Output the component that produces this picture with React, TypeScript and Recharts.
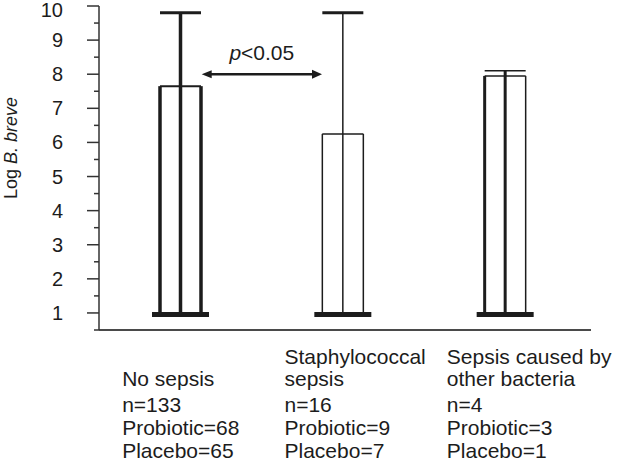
import { Bar, BarChart, ReferenceLine, XAxis, YAxis } from "recharts";

const categories = ["No sepsis", "Staphylococcal sepsis", "Sepsis caused by other bacteria"];
const baseValues = [1, 1, 1];
const meanValues = [7.65, 6.25, 7.95];
const upperValues = [9.8, 9.8, 8.1];

const titleLines = [
  ["", "No sepsis"],
  ["Staphylococcal", "sepsis"],
  ["Sepsis caused by", "other bacteria"],
];
const nLabels = ["n=133", "n=16", "n=4"];
const probioticLabels = ["Probiotic=68", "Probiotic=9", "Probiotic=3"];
const placeboLabels = ["Placebo=65", "Placebo=7", "Placebo=1"];

const yTicks = [0.5, 1, 1.5, 2, 2.5, 3, 3.5, 4, 4.5, 5, 5.5, 6, 6.5, 7, 7.5, 8, 8.5, 9, 9.5, 10];
const arrowLevel = 8;

const data = categories.map((category, i) => ({
  category,
  range: [baseValues[i], meanValues[i]],
  mean: meanValues[i],
  upper: upperValues[i],
}));

const FONT = "'Liberation Sans', Arial, Helvetica, sans-serif";
const INK = "#1c1c1c";
const BAR_SIZE = 41;

// line weights differ per group in the original figure
const barStyles = [
  { left: 3.5, right: 3.5, top: 2, center: 3.5, cap: 3 },
  { left: 1.5, right: 1.5, top: 1.5, center: 1.5, cap: 3 },
  { left: 3, right: 1.5, top: 1.5, center: 3, cap: 1.5 },
];

const BoxShape = (props: any) => {
  const { x, y, width, height, index, payload } = props;
  const s = barStyles[index % barStyles.length];
  const base = payload.range[0];
  const perUnit = height / (payload.mean - base);
  const topY = y - (payload.upper - payload.mean) * perUnit;
  const baseY = y + height;
  const cx = x + width / 2;
  return (
    <g>
      <line x1={x} y1={baseY} x2={x} y2={y} stroke={INK} strokeWidth={s.left} />
      <line x1={x + width} y1={baseY} x2={x + width} y2={y} stroke={INK} strokeWidth={s.right} />
      <line x1={x} y1={y} x2={x + width} y2={y} stroke={INK} strokeWidth={s.top} />
      <line x1={cx} y1={baseY} x2={cx} y2={topY} stroke={INK} strokeWidth={s.center} />
      <line x1={x} y1={topY} x2={x + width} y2={topY} stroke={INK} strokeWidth={s.cap} />
      <line x1={x - 8} y1={baseY + 1.5} x2={x + width + 8} y2={baseY + 1.5} stroke={INK} strokeWidth={5} />
    </g>
  );
};

const YTick = (props: any) => {
  const { x, y, payload } = props;
  const v = payload.value;
  const major = Number.isInteger(v);
  if (!major) {
    return <line x1={x - 5} y1={y} x2={x} y2={y} stroke="#333" strokeWidth={1.5} />;
  }
  return (
    <g>
      <line x1={x - 12} y1={y} x2={x} y2={y} stroke="#333" strokeWidth={1.5} />
      <text x={x - 36} y={Math.max(y, 10) + 7} textAnchor="end" fontSize={20} fontFamily={FONT} fill={INK}>
        {v}
      </text>
    </g>
  );
};

const XTick = (props: any) => {
  const { x, y, payload } = props;
  const i = payload.index;
  const left = x - 58;
  const rows = [
    { text: titleLines[i][0], dy: 34 },
    { text: titleLines[i][1], dy: 56 },
    { text: nLabels[i], dy: 82 },
    { text: probioticLabels[i], dy: 105 },
    { text: placeboLabels[i], dy: 128 },
  ];
  return (
    <g>
      {rows.map((r, k) =>
        r.text ? (
          <text key={k} x={left} y={y + r.dy} fontSize={21} fontFamily={FONT} fill={INK}>
            {r.text}
          </text>
        ) : null
      )}
    </g>
  );
};

const SignificanceArrow = (props: any) => {
  const { x1, y1, x2 } = props;
  const a = x1 + BAR_SIZE / 2 + 1;
  const b = x2 - BAR_SIZE / 2;
  const yy = y1;
  return (
    <g>
      <line x1={a + 6} y1={yy} x2={b - 6} y2={yy} stroke={INK} strokeWidth={2.5} />
      <polygon points={`${a},${yy} ${a + 10},${yy - 4} ${a + 10},${yy + 4}`} fill={INK} />
      <polygon points={`${b},${yy} ${b - 10},${yy - 4.5} ${b - 10},${yy + 4.5}`} fill={INK} />
      <text x={(a + b) / 2} y={yy - 14} textAnchor="middle" fontSize={21} fontFamily={FONT} fill={INK}>
        <tspan fontStyle="italic">p</tspan>&lt;0.05
      </text>
    </g>
  );
};

export default function App() {
  return (
    <div style={{ position: "absolute", left: 0, top: 0, background: "#fff" }}>
      <BarChart width={623} height={462} data={data} margin={{ top: 6, right: 32, bottom: 0, left: 0 }}>
        <XAxis
          dataKey="category"
          interval={0}
          tickLine={false}
          tickSize={0}
          tickMargin={0}
          height={132}
          padding={{ left: 0, right: 5 }}
          axisLine={{ stroke: "#4a4a4a", strokeWidth: 2 }}
          tick={<XTick />}
        />
        <YAxis
          type="number"
          domain={[0.5, 10]}
          ticks={yTicks}
          interval={0}
          width={99}
          tickLine={false}
          tickSize={0}
          tickMargin={0}
          axisLine={{ stroke: "#333", strokeWidth: 1.5 }}
          tick={<YTick />}
          label={{
            content: () => (
              <text
                x={17}
                y={148}
                transform="rotate(-90, 17, 148)"
                textAnchor="middle"
                fontSize={18}
                fontFamily={FONT}
                fill={INK}
              >
                Log <tspan fontStyle="italic">B. breve</tspan>
              </text>
            ),
          }}
        />
        <Bar dataKey="range" barSize={BAR_SIZE} shape={<BoxShape />} isAnimationActive={false} />
        <ReferenceLine
          segment={[
            { x: categories[0], y: arrowLevel },
            { x: categories[1], y: arrowLevel },
          ]}
          shape={(p: any) => <SignificanceArrow {...p} />}
        />
      </BarChart>
    </div>
  );
}
